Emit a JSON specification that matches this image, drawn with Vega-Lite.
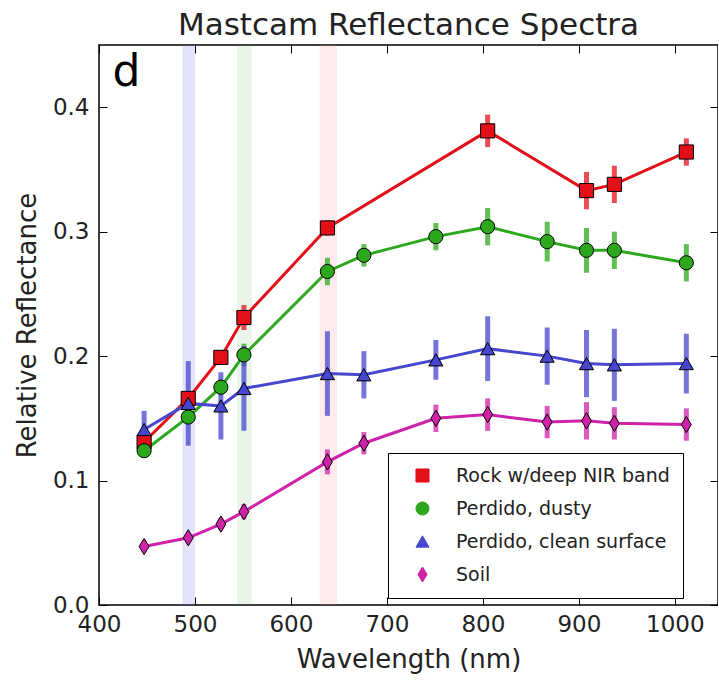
{
  "$schema": "https://vega.github.io/schema/vega-lite/v6.json",
  "autosize": "none",
  "width": 619,
  "height": 560,
  "padding": {"left": 99, "top": 45, "right": 0, "bottom": 77},
  "background": "white",
  "config": {
    "font": "DejaVu Sans",
    "view": {"stroke": "black", "strokeWidth": 1.5},
    "axis": {
      "domain": false,
      "grid": false,
      "tickColor": "black",
      "tickSize": -8,
      "tickWidth": 1,
      "labelFlush": false,
      "labelOverlap": false,
      "labelFontSize": 23,
      "labelColor": "#222",
      "titleFontSize": 26,
      "titleFontWeight": "normal",
      "titleColor": "#222"
    }
  },
  "title": {"text": "Mastcam Reflectance Spectra", "fontSize": 31, "fontWeight": "normal", "color": "#222", "offset": 3, "anchor": "middle"},
  "datasets": {
    "spectra": [
      {"series": "Rock w/deep NIR band", "wl": 447, "r": 0.131, "err": 0.004},
      {"series": "Rock w/deep NIR band", "wl": 493, "r": 0.166, "err": 0.004},
      {"series": "Rock w/deep NIR band", "wl": 527, "r": 0.199, "err": 0.005},
      {"series": "Rock w/deep NIR band", "wl": 551, "r": 0.231, "err": 0.010},
      {"series": "Rock w/deep NIR band", "wl": 638, "r": 0.303, "err": 0.006},
      {"series": "Rock w/deep NIR band", "wl": 805, "r": 0.381, "err": 0.013},
      {"series": "Rock w/deep NIR band", "wl": 908, "r": 0.333, "err": 0.015},
      {"series": "Rock w/deep NIR band", "wl": 937, "r": 0.338, "err": 0.015},
      {"series": "Rock w/deep NIR band", "wl": 1012, "r": 0.364, "err": 0.011},
      {"series": "Perdido, dusty", "wl": 447, "r": 0.124, "err": 0.004},
      {"series": "Perdido, dusty", "wl": 493, "r": 0.151, "err": 0.004},
      {"series": "Perdido, dusty", "wl": 527, "r": 0.175, "err": 0.006},
      {"series": "Perdido, dusty", "wl": 551, "r": 0.201, "err": 0.009},
      {"series": "Perdido, dusty", "wl": 638, "r": 0.268, "err": 0.011},
      {"series": "Perdido, dusty", "wl": 676, "r": 0.281, "err": 0.009},
      {"series": "Perdido, dusty", "wl": 751, "r": 0.296, "err": 0.011},
      {"series": "Perdido, dusty", "wl": 805, "r": 0.304, "err": 0.015},
      {"series": "Perdido, dusty", "wl": 867, "r": 0.292, "err": 0.016},
      {"series": "Perdido, dusty", "wl": 908, "r": 0.285, "err": 0.018},
      {"series": "Perdido, dusty", "wl": 937, "r": 0.285, "err": 0.015},
      {"series": "Perdido, dusty", "wl": 1012, "r": 0.275, "err": 0.015},
      {"series": "Perdido, clean surface", "wl": 447, "r": 0.141, "err": 0.015},
      {"series": "Perdido, clean surface", "wl": 493, "r": 0.162, "err": 0.034},
      {"series": "Perdido, clean surface", "wl": 527, "r": 0.160, "err": 0.027},
      {"series": "Perdido, clean surface", "wl": 551, "r": 0.174, "err": 0.034},
      {"series": "Perdido, clean surface", "wl": 638, "r": 0.186, "err": 0.034},
      {"series": "Perdido, clean surface", "wl": 676, "r": 0.185, "err": 0.019},
      {"series": "Perdido, clean surface", "wl": 751, "r": 0.197, "err": 0.016},
      {"series": "Perdido, clean surface", "wl": 805, "r": 0.206, "err": 0.026},
      {"series": "Perdido, clean surface", "wl": 867, "r": 0.200, "err": 0.023},
      {"series": "Perdido, clean surface", "wl": 908, "r": 0.194, "err": 0.027},
      {"series": "Perdido, clean surface", "wl": 937, "r": 0.193, "err": 0.029},
      {"series": "Perdido, clean surface", "wl": 1012, "r": 0.194, "err": 0.024},
      {"series": "Soil", "wl": 447, "r": 0.047, "err": 0.004},
      {"series": "Soil", "wl": 493, "r": 0.054, "err": 0.004},
      {"series": "Soil", "wl": 527, "r": 0.065, "err": 0.005},
      {"series": "Soil", "wl": 551, "r": 0.075, "err": 0.006},
      {"series": "Soil", "wl": 638, "r": 0.115, "err": 0.010},
      {"series": "Soil", "wl": 676, "r": 0.130, "err": 0.009},
      {"series": "Soil", "wl": 751, "r": 0.150, "err": 0.011},
      {"series": "Soil", "wl": 805, "r": 0.153, "err": 0.013},
      {"series": "Soil", "wl": 867, "r": 0.147, "err": 0.013},
      {"series": "Soil", "wl": 908, "r": 0.148, "err": 0.015},
      {"series": "Soil", "wl": 937, "r": 0.146, "err": 0.013},
      {"series": "Soil", "wl": 1012, "r": 0.145, "err": 0.013}
    ],
    "bands": [
      {"band": "blue", "lo": 487, "hi": 500},
      {"band": "green", "lo": 544, "hi": 559},
      {"band": "red", "lo": 630, "hi": 648}
    ],
    "panel": [
      {"label": "d", "wl": 414, "r": 0.417}
    ]
  },
  "layer": [
    {
      "data": {"name": "bands"},
      "transform": [{"filter": "datum.band === 'blue'"}],
      "mark": {"type": "rect", "color": "#8080ee", "opacity": 0.22},
      "encoding": {
        "x": {"field": "lo", "type": "quantitative", "scale": {"domain": [400, 1045], "nice": false, "zero": false},
              "axis": {"orient": "bottom", "values": [400, 500, 600, 700, 800, 900, 1000], "format": "d", "title": "Wavelength (nm)", "labelPadding": 16, "titlePadding": 10}},
        "x2": {"field": "hi"}
      }
    },
    {
      "data": {"name": "bands"},
      "transform": [{"filter": "datum.band === 'green'"}],
      "mark": {"type": "rect", "color": "#60b060", "opacity": 0.13},
      "encoding": {
        "x": {"field": "lo", "type": "quantitative", "scale": {"domain": [400, 1045], "nice": false, "zero": false}, "axis": null},
        "x2": {"field": "hi"}
      }
    },
    {
      "data": {"name": "bands"},
      "transform": [{"filter": "datum.band === 'red'"}],
      "mark": {"type": "rect", "color": "#ff8080", "opacity": 0.16},
      "encoding": {
        "x": {"field": "lo", "type": "quantitative", "scale": {"domain": [400, 1045], "nice": false, "zero": false}, "axis": null},
        "x2": {"field": "hi"}
      }
    },
    {
      "data": {"name": "spectra"},
      "mark": {"type": "errorbar", "ticks": false, "thickness": 5, "opacity": 0.75},
      "encoding": {
        "x": {"field": "wl", "type": "quantitative", "scale": {"domain": [400, 1045], "nice": false, "zero": false},
              "axis": {"orient": "top", "values": [400, 500, 600, 700, 800, 900, 1000], "labels": false, "title": null}},
        "y": {"field": "r", "type": "quantitative", "scale": {"domain": [0, 0.45], "nice": false},
              "axis": {"orient": "left", "values": [0, 0.1, 0.2, 0.3, 0.4], "format": ".1f", "title": "Relative Reflectance", "labelPadding": 18, "titlePadding": 12}},
        "yError": {"field": "err"},
        "color": {"field": "series", "type": "nominal",
                  "scale": {"domain": ["Rock w/deep NIR band", "Perdido, dusty", "Perdido, clean surface", "Soil"],
                            "range": ["#e3101a", "#2ca81c", "#4646cf", "#cf22a8"]}}
      }
    },
    {
      "data": {"name": "spectra"},
      "mark": {"type": "line", "strokeWidth": 3},
      "encoding": {
        "x": {"field": "wl", "type": "quantitative", "axis": null},
        "y": {"field": "r", "type": "quantitative",
              "axis": {"orient": "right", "values": [0, 0.1, 0.2, 0.3, 0.4], "labels": false, "title": null}},
        "color": {"field": "series", "type": "nominal"},
        "order": {"field": "wl", "type": "quantitative"}
      }
    },
    {
      "data": {"name": "spectra"},
      "mark": {"type": "point", "filled": true, "stroke": "black", "strokeWidth": 1, "opacity": 1, "size": 200},
      "encoding": {
        "x": {"field": "wl", "type": "quantitative", "axis": null},
        "y": {"field": "r", "type": "quantitative", "axis": null},
        "color": {"field": "series", "type": "nominal",
                  "legend": {"orient": "none", "legendX": 289, "legendY": 408, "title": null,
                             "strokeColor": "black", "fillColor": "white", "padding": 13,
                             "labelFontSize": 19, "labelColor": "#222", "labelLimit": 400, "symbolSize": 170,
                             "symbolOpacity": 1, "symbolStrokeColor": "black", "symbolStrokeWidth": 1,
                             "rowPadding": 13, "symbolOffset": 12, "labelOffset": 24, "cornerRadius": 0,
                             "encode": {"symbols": {"update": {"stroke": {"value": "black"}, "strokeWidth": {"value": 1}, "opacity": {"value": 1}, "fillOpacity": {"value": 1}, "strokeOpacity": {"value": 1}}}}}},
        "shape": {"field": "series", "type": "nominal",
                  "scale": {"domain": ["Rock w/deep NIR band", "Perdido, dusty", "Perdido, clean surface", "Soil"],
                            "range": ["square", "circle", "triangle-up", "M0,-1.15L0.7,0L0,1.15L-0.7,0Z"]}}
      }
    },
    {
      "data": {"name": "panel"},
      "mark": {"type": "text", "fontSize": 44, "align": "left", "baseline": "alphabetic", "color": "black"},
      "encoding": {
        "x": {"field": "wl", "type": "quantitative", "axis": null},
        "y": {"field": "r", "type": "quantitative", "axis": null},
        "text": {"field": "label"}
      }
    }
  ],
  "resolve": {"axis": {"x": "independent", "y": "independent"}}
}
